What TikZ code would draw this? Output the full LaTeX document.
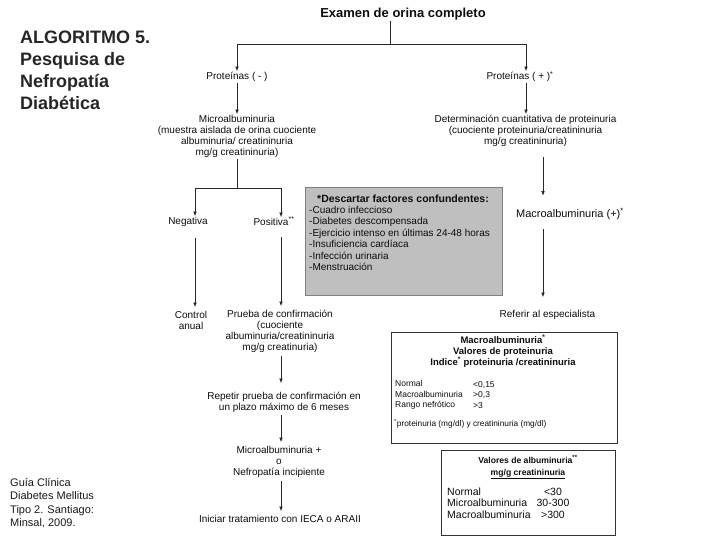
\documentclass[tikz,border=0pt]{standalone}
\usepackage{fontspec}
\setmainfont{Liberation Sans}
\usetikzlibrary{arrows.meta}
\newcommand\fsz[2]{\fontsize{#1}{#2}\selectfont}
\newcommand\supx[1]{\smash{\textsuperscript{#1}}}
\begin{document}
\begin{tikzpicture}[x=1pt,y=-1pt,
  t/.style={inner sep=1pt, align=center, font=\fsz{10}{11}, text=black!95},
  ln/.style={draw=black!85, line width=0.6pt},
  arr/.style={ln, -{Latex[length=4.5pt,width=3.6pt]}},
  frame/.style={draw=black!80, line width=0.8pt, inner sep=0pt}]
\useasboundingbox (0,0) rectangle (728,546);
\fill[white] (0,0) rectangle (728,546);

% lanes
\coordinate (laneN) at (195,0);
\coordinate (laneP) at (281,0);
\coordinate (laneR) at (543,0);
\coordinate (laneT) at (526,0);
\coordinate (jtop) at (390,44);
\coordinate (jl) at (237,188);

% title and citation
\node[anchor=west, align=left, inner sep=0pt, text=black!85, font=\bfseries\fsz{18}{22}] (title) at (20,70) {ALGORITMO 5.\\Pesquisa de\\Nefropatía\\Diabética};
\node[anchor=west, align=left, inner sep=0pt, text=black!90, font=\fsz{11}{13.4}] (cite) at (10,503) {Guía Clínica\\Diabetes Mellitus\\Tipo 2. Santiago:\\Minsal, 2009.};

% top
\node[t, font=\bfseries\fsz{13}{15}] (exam) at (403,14) {Examen de orina completo};
\node[t] (pneg) at (237,77) {Proteínas ( - )};
\node[t] (ppos) at (520,77) {Proteínas ( + )\supx{*}};
\draw[ln] (exam.south -| jtop) -- (jtop);
\draw[arr] (jtop) -| (pneg.north);
\draw[arr] (jtop) -| (ppos.north -| laneT);

% left column
\node[t] (micro) at (237,136.5) {Microalbuminuria\\(muestra aislada de orina cuociente\\albuminuria/ creatininuria\\mg/g creatininuria)};
\draw[arr] (pneg) -- (micro);
\draw[ln] (micro.south) -- (jl);
\node[t] (neg) at (188,222) {Negativa};
\node[t] (pos) at (274,222) {Positiva\supx{**}};
\draw[arr] (jl) -| (neg.north -| laneN);
\draw[arr] (jl) -| (pos.north -| laneP);
\node[t] (control) at (191,320.5) {Control\\anual};
\node[t] (prueba) at (280,331.5) {Prueba de confirmación\\(cuociente\\albuminuria/creatininuria\\mg/g creatinuria)};
\draw[arr, shorten <=10pt, shorten >=3pt] (neg.south -| laneN) -- (control.north -| laneN);
\draw[arr, shorten <=10pt, shorten >=3pt] (pos.south -| laneP) -- (prueba.north -| laneP);
\node[t] (repetir) at (284,402.5) {Repetir prueba de confirmación en\\un plazo máximo de 6 meses};
\draw[arr, shorten <=2pt, shorten >=8pt] (prueba.south -| laneP) -- (repetir.north -| laneP);
\node[t] (microplus) at (279,462) {Microalbuminuria +\\o\\Nefropatía incipiente};
\draw[arr, shorten <=1pt, shorten >=3pt] (repetir.south -| laneP) -- (microplus.north -| laneP);
\node[t] (iniciar) at (280,519) {Iniciar tratamiento con IECA o ARAII};
\draw[arr, shorten <=2pt, shorten >=3pt] (microplus.south -| laneP) -- (iniciar.north -| laneP);

% gray box
\node[draw=black!50, fill=black!25, line width=1pt, minimum width=197pt, minimum height=108pt, inner sep=0pt] (gbox) at (403.5,241) {};
\node[t, font=\bfseries\fsz{10.5}{12}] (gtitle) at (403,199) {*Descartar factores confundentes:};
\node[t, align=left, anchor=north west, font=\fsz{10}{11.4}] (gitems) at (308,205) {-Cuadro infeccioso\\-Diabetes descompensada\\-Ejercicio intenso en últimas 24-48 horas\\-Insuficiencia cardíaca\\-Infección urinaria\\-Menstruación};

% right column
\node[t] (determ) at (525.5,131) {Determinación cuantitativa de proteinuria\\(cuociente proteinuria/creatininuria\\mg/g creatininuria)};
\draw[arr] (ppos.south -| laneT) -- (determ.north -| laneT);
\node[t, font=\fsz{11}{13}] (macro) at (570,215) {Macroalbuminuria (+)\supx{*}};
\draw[arr, shorten <=9pt, shorten >=13pt] (determ.south -| laneR) -- (macro.north -| laneR);
\node[t] (refer) at (547.5,315) {Referir al especialista};
\draw[arr, shorten <=8pt, shorten >=12pt] (macro.south -| laneR) -- (refer.north -| laneR);

% box 1
\node[frame, minimum width=226pt, minimum height=111pt] (box1) at (504,387.5) {};
\node[t, font=\bfseries\fsz{9.5}{11}] (b1h) at (503,352) {Macroalbuminuria\supx{*}\\Valores de proteinuria\\Indice\supx{*} proteinuria /creatininuria};
\node[t, anchor=west, align=left, font=\fsz{8.5}{10.5}] (b1l) at (394,395) {Normal\\Macroalbuminuria\\Rango nefrótico};
\node[t, anchor=west, align=left, font=\fsz{8.5}{10.5}] (b1v) at (472,395) {<0,15\\>0,3\\>3};
\node[t, anchor=west, font=\fsz{8.3}{10}] (b1f) at (393,424) {\supx{*}proteinuria (mg/dl) y creatininuria (mg/dl)};

% box 2
\node[frame, minimum width=174pt, minimum height=85pt] (box2) at (528,492.5) {};
\node[t, font=\bfseries\fsz{8.6}{12}] (b2h) at (528,468) {Valores de albuminuria\supx{**}\\\underline{mg/g creatininuria}};
\node[t, anchor=west, align=left, font=\fsz{10.5}{11.5}] (b2l) at (446,503) {Normal\\Microalbuminuria\\Macroalbuminuria};
\node[t, font=\fsz{10.5}{11.5}] (b2v) at (553,503) {<30\\30-300\\>300};
\end{tikzpicture}
\end{document}
